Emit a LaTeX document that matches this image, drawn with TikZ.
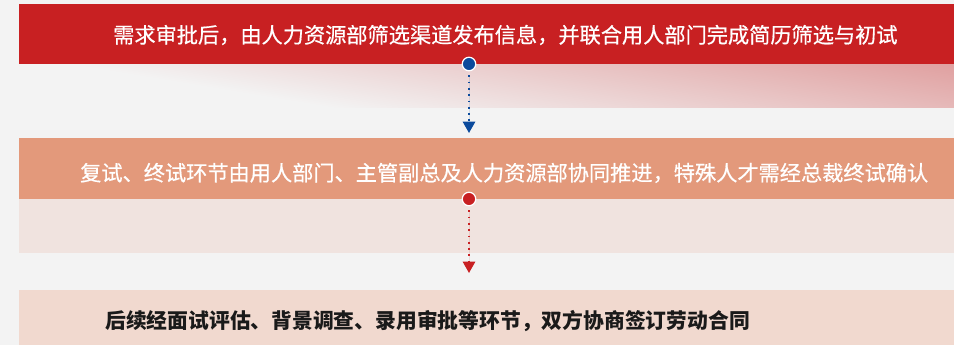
\documentclass[tikz,border=0pt]{standalone}
\usepackage{fontspec}
\setmainfont{Noto Sans CJK SC}
\newfontfamily\cjkmed[FakeBold=0.6]{Noto Sans CJK SC}
\usetikzlibrary{arrows.meta}
\definecolor{bg}{HTML}{F3F3F3}
\definecolor{barred}{HTML}{C82022}
\definecolor{barsalmon}{HTML}{E3997B}
\definecolor{barpale}{HTML}{F0E3DF}
\definecolor{barpeach}{HTML}{F1D9CF}
\definecolor{gradpink}{HTML}{E0A0A0}
\definecolor{dotblue}{HTML}{0B4A9C}
\definecolor{dotred}{HTML}{C82022}
\definecolor{darktext}{HTML}{1A1A1A}
\begin{document}
\begin{tikzpicture}[x=1pt,y=-1pt,
  bartext/.style={anchor=west, inner sep=0pt, font=\cjkmed\fontsize{21.2}{22}\selectfont},
  marker/.style={circle, draw=white, line width=1.2pt, minimum size=13.5pt, inner sep=0pt},
  dotline/.style={line width=1.8pt, dash pattern=on 1.8pt off 4.5pt, shorten <=4pt,
    -{Triangle[width=12.5pt,length=11.5pt,sep=4pt]}}]
\useasboundingbox (0,0) rectangle (954,345);
\fill[bg] (0,0) rectangle (954,345);
% gradient band under the first bar
\begin{scope}
  \clip (19,64) rectangle (954,108);
  \begin{scope}[transform canvas={rotate=80.6}]
    \shade[left color=bg, right color=gradpink] (-52,-20) rectangle (93,1000);
  \end{scope}
\end{scope}
% bars
\fill[barred] (19,4) rectangle (954,64);
\fill[barsalmon] (19,138) rectangle (954,199);
\fill[barpale] (19,199) rectangle (954,253);
\fill[barpeach] (19,290) rectangle (954,345);
% texts
\node[bartext, text=white] (t1) at (113,35) {需求审批后，由人力资源部筛选渠道发布信息，并联合用人部门完成简历筛选与初试};
\node[bartext, text=white] (t2) at (80,173) {复试、终试环节由用人部门、主管副总及人力资源部协同推进，特殊人才需经总裁终试确认};
\node[bartext, text=darktext, font=\fontsize{20.8}{22}\selectfont\bfseries] (t3) at (105,321) {后续经面试评估、背景调查、录用审批等环节，双方协商签订劳动合同};
% markers and connectors
\node[marker, fill=dotblue] (m1) at (469,64) {};
\node[marker, fill=dotred] (m2) at (469,199) {};
\coordinate (a1) at (469,137);
\coordinate (a2) at (469,277);
\draw[dotline, draw=dotblue, fill=dotblue] (m1) -- (a1);
\draw[dotline, draw=dotred, fill=dotred] (m2) -- (a2);
\end{tikzpicture}
\end{document}
